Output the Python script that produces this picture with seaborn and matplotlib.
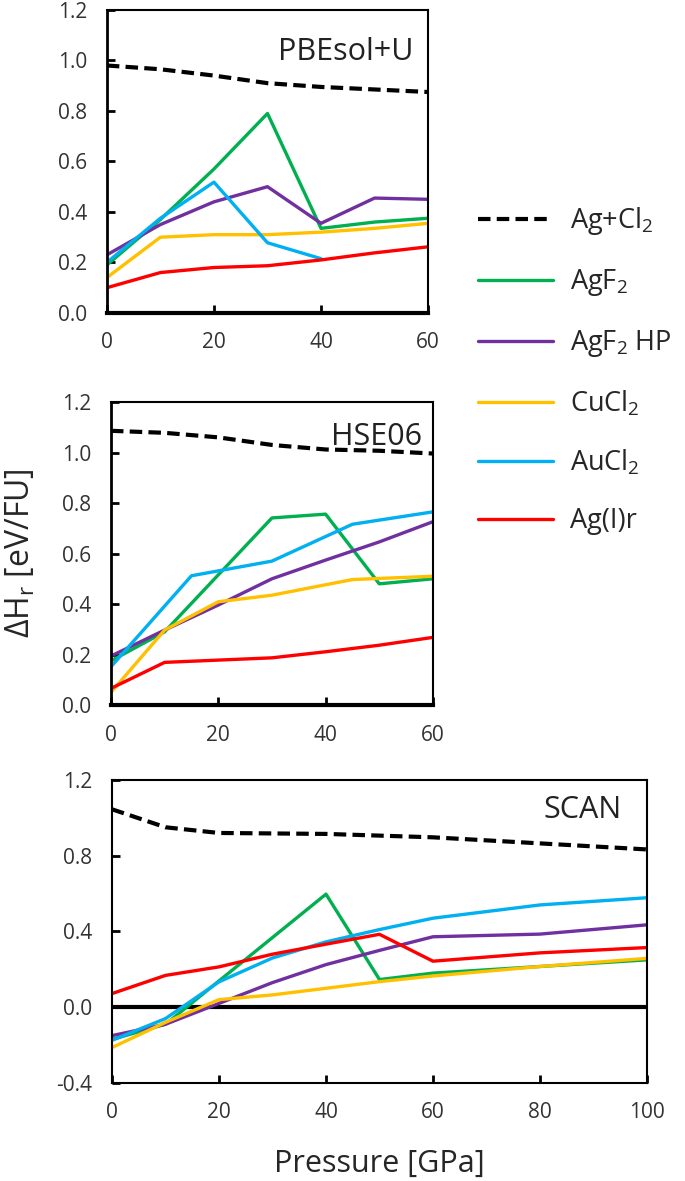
import numpy as np
import pandas as pd
import matplotlib
matplotlib.use("Agg")
import matplotlib.pyplot as plt
from matplotlib.lines import Line2D
import seaborn as sns

# series names and colours
series = ["Ag+Cl2", "AgF2", "AgF2 HP", "CuCl2", "AuCl2", "Ag(I)r"]
legend_labels = ["Ag+Cl$_2$", "AgF$_2$", "AgF$_2$ HP", "CuCl$_2$", "AuCl$_2$", "Ag(I)r"]
colors = ["#000000", "#00B050", "#7030A0", "#FFC000", "#00B0F0", "#FF0000"]

# PBEsol+U
pbe_p = [0, 10, 20, 30, 40, 50, 60]
pbe_agcl2 = [0.98, 0.965, 0.94, 0.91, 0.895, 0.885, 0.875]
pbe_agf2 = [0.19, 0.37, 0.57, 0.79, 0.335, 0.36, 0.375]
pbe_agf2hp = [0.23, 0.35, 0.44, 0.50, 0.355, 0.455, 0.45]
pbe_cucl2 = [0.14, 0.30, 0.31, 0.31, 0.32, 0.335, 0.355]
pbe_aucl2_p = [0, 10, 20, 30, 40]
pbe_aucl2 = [0.20, 0.375, 0.518, 0.278, 0.215]
pbe_agir = [0.10, 0.16, 0.18, 0.187, 0.21, 0.238, 0.262]

# HSE06
hse_p = [0, 10, 20, 30, 40, 50, 60]
hse_agcl2 = [1.086, 1.078, 1.06, 1.03, 1.012, 1.007, 0.996]
hse_agf2_p = [0, 10, 30, 40, 50, 60]
hse_agf2 = [0.175, 0.29, 0.741, 0.756, 0.48, 0.50]
hse_agf2hp = [0.194, 0.297, 0.396, 0.50, 0.574, 0.646, 0.726]
hse_cucl2_p = [0, 10, 20, 30, 45, 60]
hse_cucl2 = [0.05, 0.297, 0.409, 0.435, 0.497, 0.51]
hse_aucl2_p = [0, 15, 30, 45, 60]
hse_aucl2 = [0.152, 0.512, 0.57, 0.716, 0.765]
hse_agir = [0.066, 0.169, 0.178, 0.187, 0.211, 0.237, 0.268]

# SCAN
scan_p = [0, 10, 20, 30, 40, 50, 60, 80, 100]
scan_agcl2_p = [0, 10, 20, 40, 60, 80, 100]
scan_agcl2 = [1.045, 0.95, 0.92, 0.915, 0.897, 0.865, 0.833]
scan_agf2_p = [0, 10, 40, 50, 60, 80, 100]
scan_agf2 = [-0.17, -0.09, 0.597, 0.146, 0.18, 0.215, 0.25]
scan_agf2hp = [-0.15, -0.09, 0.02, 0.13, 0.225, 0.30, 0.372, 0.386, 0.435]
scan_cucl2 = [-0.213, -0.08, 0.04, 0.065, 0.10, 0.135, 0.165, 0.215, 0.258]
scan_aucl2 = [-0.175, -0.06, 0.134, 0.26, 0.345, 0.41, 0.47, 0.54, 0.578]
scan_agir = [0.072, 0.168, 0.213, 0.28, 0.333, 0.385, 0.243, 0.287, 0.315]


def make_df(parts):
    frames = []
    for name, p, v in parts:
        frames.append(pd.DataFrame({"P": p, "dH": v, "series": name}))
    return pd.concat(frames, ignore_index=True)


df_pbe = make_df([
    ("Ag+Cl2", pbe_p, pbe_agcl2), ("AgF2", pbe_p, pbe_agf2),
    ("AgF2 HP", pbe_p, pbe_agf2hp), ("CuCl2", pbe_p, pbe_cucl2),
    ("AuCl2", pbe_aucl2_p, pbe_aucl2), ("Ag(I)r", pbe_p, pbe_agir),
])
df_hse = make_df([
    ("Ag+Cl2", hse_p, hse_agcl2), ("AgF2", hse_agf2_p, hse_agf2),
    ("AgF2 HP", hse_p, hse_agf2hp), ("CuCl2", hse_cucl2_p, hse_cucl2),
    ("AuCl2", hse_aucl2_p, hse_aucl2), ("Ag(I)r", hse_p, hse_agir),
])
df_scan = make_df([
    ("Ag+Cl2", scan_agcl2_p, scan_agcl2), ("AgF2", scan_agf2_p, scan_agf2),
    ("AgF2 HP", scan_p, scan_agf2hp), ("CuCl2", scan_p, scan_cucl2),
    ("AuCl2", scan_p, scan_aucl2), ("Ag(I)r", scan_p, scan_agir),
])

sns.set_theme(style="white")
plt.rcParams["font.family"] = ["Open Sans", "DejaVu Sans"]
plt.rcParams["mathtext.default"] = "regular"

palette = dict(zip(series, colors))
dash_map = {s: "" for s in series}
dash_map["Ag+Cl2"] = (3, 1.5)
width_map = {s: 2.4 for s in series}
width_map["Ag+Cl2"] = 3.0

fig = plt.figure(figsize=(6.85, 11.81), dpi=100)
ax1 = fig.add_axes([0.156, 0.735, 0.469, 0.2566])
ax2 = fig.add_axes([0.162, 0.403, 0.470, 0.2566])
ax3 = fig.add_axes([0.1635, 0.083, 0.781, 0.2566])

tick_color = "#333333"

for ax, df, title, xmax, yticks, tx, ty in [
    (ax1, df_pbe, "PBEsol+U", 60, np.arange(0, 1.21, 0.2), 0.953, 0.91),
    (ax2, df_hse, "HSE06", 60, np.arange(0, 1.21, 0.2), 0.966, 0.935),
    (ax3, df_scan, "SCAN", 100, np.arange(-0.4, 1.21, 0.4), 0.953, 0.95),
]:
    for s in series:
        sub = df[df["series"] == s]
        sns.lineplot(data=sub, x="P", y="dH", color=palette[s],
                     linewidth=width_map[s], ax=ax, legend=False,
                     sort=False, estimator=None)
        if dash_map[s]:
            ax.lines[-1].set_dashes(dash_map[s])
    ax.set_xlim(0, xmax)
    ax.set_ylim(yticks[0], 1.2)
    ax.set_xticks(np.arange(0, xmax + 1, 20))
    ax.set_yticks(yticks)
    ax.set_yticklabels([f"{t:.1f}" for t in yticks])
    ax.tick_params(direction="in", length=6, width=2, pad=14,
                   labelsize=15, colors="black", labelcolor=tick_color,
                   bottom=True, left=True)
    ax.set_xlabel("")
    ax.set_ylabel("")
    for sp in ax.spines.values():
        sp.set_color("black")
        sp.set_linewidth(1.5)
    ax.text(tx, ty, title, transform=ax.transAxes, ha="right", va="top",
            fontsize=22, color="#222222")

ax1.spines["bottom"].set_linewidth(3)
ax1.spines["left"].set_linewidth(2)
ax2.spines["bottom"].set_linewidth(3)
ax2.spines["left"].set_linewidth(2)
ax3.axhline(0, color="black", linewidth=3, zorder=1)

ax2.set_ylabel("ΔH$_r$ [eV/FU]", fontsize=23, labelpad=18)
ax3.set_xlabel("Pressure [GPa]", fontsize=22, labelpad=18)

handles = []
for s in series:
    h = Line2D([0], [0], color=palette[s], linewidth=width_map[s])
    if dash_map[s]:
        h.set_dashes(dash_map[s])
    handles.append(h)
fig.legend(handles, legend_labels, loc="upper left", bbox_to_anchor=(0.698, 0.826),
           frameon=False, fontsize=19.5, handlelength=2.75, handletextpad=0.65,
           labelspacing=1.1, borderpad=0, borderaxespad=0)

fig.savefig("out.png", dpi=100)
